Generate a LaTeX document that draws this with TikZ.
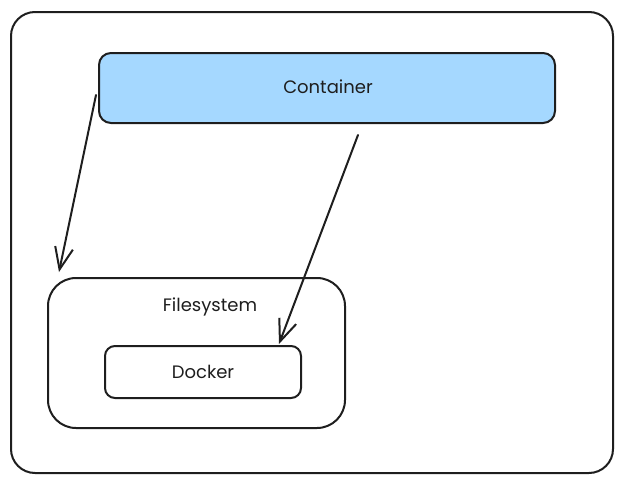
\documentclass[tikz,border=0pt]{standalone}
\usepackage{fontspec}
\setmainfont{Poppins}
\usetikzlibrary{arrows.meta,calc}
\definecolor{ink}{HTML}{1E1E1E}
\definecolor{paleblue}{HTML}{A5D8FF}
\tikzset{
  box/.style={draw=ink, line width=2pt, anchor=north west, inner sep=0pt},
  lbl/.style={text=ink, font=\fontsize{18}{20}\selectfont},
  arr/.style={draw=ink, line width=2pt, line cap=round, -{Straight Barb[length=22pt,width=18pt,line width=2pt]}},
}
\begin{document}
\begin{tikzpicture}[x=1pt,y=-1pt]
\useasboundingbox (0,0) rectangle (622,482);
\node[box, rounded corners=24pt, minimum width=602pt, minimum height=461pt] (frame) at (10,11) {};
\node[box, fill=paleblue, rounded corners=12pt, minimum width=456pt, minimum height=70pt] (cont) at (98,52) {};
\node[lbl] (contlbl) at (328,87) {Container};
\node[box, rounded corners=28pt, minimum width=297pt, minimum height=150pt] (fs) at (47,277) {};
\node[lbl] (fslbl) at (210,307) {Filesystem};
\node[box, rounded corners=10pt, minimum width=196pt, minimum height=52pt] (dock) at (104,345) {};
\node[lbl] (docklbl) at (203,372) {Docker};
\coordinate (a1s) at ($(cont.west)+(-2,7)$);
\coordinate (a1e) at ($(fs.north west)+(12,-5)$);
\coordinate (a2s) at ($(cont.south west)+(260,11)$);
\coordinate (a2e) at ($(dock.north west)+(175,-1)$);
\draw[arr] (a1s) -- (a1e);
\draw[arr] (a2s) -- (a2e);
\end{tikzpicture}
\end{document}
